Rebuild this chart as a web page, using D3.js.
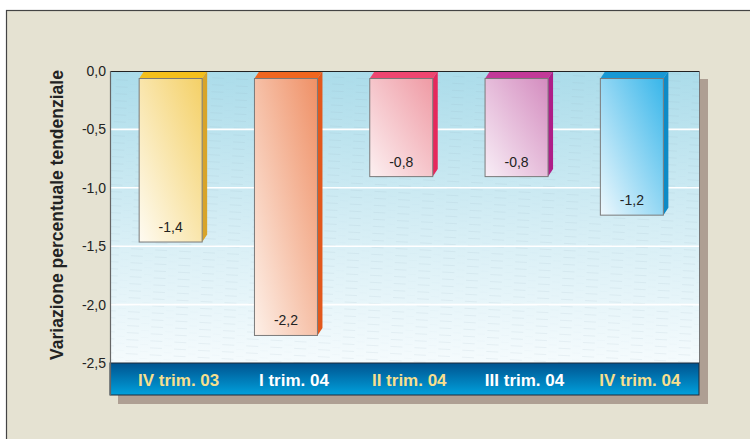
<!DOCTYPE html>
<html>
<head>
<meta charset="utf-8">
<script src="https://cdn.jsdelivr.net/npm/d3@7"></script>
<style>
  html, body { margin: 0; padding: 0; background: #fff; }
  svg { display: block; font-family: "Liberation Sans", Arial, sans-serif; }
</style>
</head>
<body>
<div id="chart"></div>
<script>
// data
const categories = ['IV trim. 03', 'I trim. 04', 'II trim. 04', 'III trim. 04', 'IV trim. 04'];
const values = [-1.4, -2.2, -0.84, -0.84, -1.17];
const yTicks = [0, -0.5, -1, -1.5, -2, -2.5];
const yTitle = 'Variazione percentuale tendenziale';

// colours per bar: top face, side face, front gradient (dark -> light)
const topColors = ['#f4bf1c', '#f0661f', '#ee4670', '#c23a98', '#1898d4'];
const sideColors = ['#d8a42a', '#e2581c', '#e6285c', '#ae1e88', '#0d8ac6'];
const frontDark = ['#f4d066', '#ef9066', '#ef9aa4', '#d48cbf', '#38b6ea'];
const frontLight = ['#fefbf2', '#fdf0e8', '#fcf0f1', '#f8eef6', '#eef8fd'];
const catColors = ['#f6df8e', '#ffffff', '#f6df8e', '#ffffff', '#f6df8e'];

const W = 750, H = 439;
const plotL = 110, plotR = 699, plotT = 71, plotB = 363, bandB = 395;
const dx = 5, dy = 7.5; // 3d depth

// italian number format, plain hyphen as minus
const it = d3.formatLocale({ decimal: ',', thousands: '.', grouping: [3], currency: ['', ' €'], minus: '-' });
const fmt = it.format('.1f');

const svg = d3.select('#chart').append('svg')
  .attr('width', W)
  .attr('height', H);

const defs = svg.append('defs');

const bg = defs.append('linearGradient').attr('id', 'plotbg')
  .attr('x1', 0).attr('y1', 0).attr('x2', 0).attr('y2', 1);
bg.append('stop').attr('offset', '0%').attr('stop-color', '#abdcea');
bg.append('stop').attr('offset', '55%').attr('stop-color', '#d6eef5');
bg.append('stop').attr('offset', '100%').attr('stop-color', '#f5fbfd');

const bandGrad = defs.append('linearGradient').attr('id', 'bandbg')
  .attr('x1', 0).attr('y1', 0).attr('x2', 0).attr('y2', 1);
bandGrad.append('stop').attr('offset', '0%').attr('stop-color', '#00538f');
bandGrad.append('stop').attr('offset', '100%').attr('stop-color', '#00a0dc');

// faint dashed hatch in the plot
const pat = defs.append('pattern').attr('id', 'hatch')
  .attr('patternUnits', 'userSpaceOnUse')
  .attr('width', 24).attr('height', 7)
  .attr('patternTransform', 'rotate(3)');
pat.append('line')
  .attr('x1', 0).attr('y1', 3.5).attr('x2', 12).attr('y2', 3.5)
  .attr('stroke', '#8aa6b6').attr('stroke-opacity', 0.12).attr('stroke-width', 1);
pat.append('line')
  .attr('x1', 14).attr('y1', 0).attr('x2', 22).attr('y2', 0)
  .attr('stroke', '#8aa6b6').attr('stroke-opacity', 0.08).attr('stroke-width', 1);

categories.forEach((c, i) => {
  const g = defs.append('linearGradient').attr('id', 'front' + i)
    .attr('x1', 1).attr('y1', 0).attr('x2', 0).attr('y2', 1);
  g.append('stop').attr('offset', '0%').attr('stop-color', frontDark[i]);
  g.append('stop').attr('offset', '100%').attr('stop-color', frontLight[i]);
});

// outer frame
svg.append('rect')
  .attr('x', 6.5).attr('y', 10.5)
  .attr('width', 800).attr('height', 500)
  .attr('fill', '#e5e2d2')
  .attr('stroke', '#444').attr('stroke-width', 1.2);

// scales
const y = d3.scaleLinear().domain([0, -2.5]).range([plotT, plotB]);
const x = d3.scaleBand().domain(categories)
  .range([plotL, plotR])
  .paddingInner(0.4536).paddingOuter(0.281).align(0.45);
const bw = x.bandwidth();

// shadow
svg.append('rect')
  .attr('x', plotL + 8).attr('y', plotT + 8)
  .attr('width', plotR - plotL + 1).attr('height', bandB - plotT + 1)
  .attr('fill', '#ae9f93');

// plot background
svg.append('rect')
  .attr('x', plotL).attr('y', plotT)
  .attr('width', plotR - plotL).attr('height', plotB - plotT)
  .attr('fill', 'url(#plotbg)');
svg.append('rect')
  .attr('x', plotL).attr('y', plotT)
  .attr('width', plotR - plotL).attr('height', plotB - plotT)
  .attr('fill', 'url(#hatch)');

// grid
svg.append('g').selectAll('line')
  .data(yTicks.filter(t => t !== 0 && t !== -2.5))
  .join('line')
  .attr('x1', plotL).attr('x2', plotR)
  .attr('y1', d => y(d)).attr('y2', d => y(d))
  .attr('stroke', '#ffffff').attr('stroke-width', 1.6);

// bars
const bars = svg.append('g').selectAll('g')
  .data(values)
  .join('g');

bars.append('polygon') // top
  .attr('points', (d, i) => {
    const x0 = x(categories[i]), y0 = y(0);
    return [[x0, y0 + dy], [x0 + dx, y0], [x0 + bw + dx, y0], [x0 + bw, y0 + dy]].join(' ');
  })
  .attr('fill', (d, i) => topColors[i]);

bars.append('polygon') // side
  .attr('points', (d, i) => {
    const x0 = x(categories[i]) + bw, y0 = y(0), y1 = y(d);
    return [[x0, y0 + dy], [x0 + dx, y0], [x0 + dx, y1], [x0, y1 + dy]].join(' ');
  })
  .attr('fill', (d, i) => sideColors[i]);

bars.append('rect') // front
  .attr('x', (d, i) => x(categories[i]))
  .attr('y', y(0) + dy)
  .attr('width', bw)
  .attr('height', d => y(d) - y(0))
  .attr('fill', (d, i) => 'url(#front' + i + ')')
  .attr('stroke', '#7a7a7a').attr('stroke-width', 1);

bars.append('text')
  .attr('x', (d, i) => x(categories[i]) + bw / 2)
  .attr('y', d => y(d) + dy - 10)
  .attr('text-anchor', 'middle')
  .attr('font-size', 14)
  .attr('fill', '#222')
  .text(d => fmt(d));

// plot borders
svg.append('line')
  .attr('x1', plotL).attr('x2', plotR).attr('y1', plotT + 0.5).attr('y2', plotT + 0.5)
  .attr('stroke', '#222').attr('stroke-width', 1.2);
svg.append('line')
  .attr('x1', plotR + 0.5).attr('x2', plotR + 0.5).attr('y1', plotT).attr('y2', plotB)
  .attr('stroke', '#777').attr('stroke-width', 1);

// category band
svg.append('rect')
  .attr('x', plotL).attr('y', plotB)
  .attr('width', plotR - plotL).attr('height', bandB - plotB)
  .attr('fill', 'url(#bandbg)')
  .attr('stroke', '#1d2b3a').attr('stroke-width', 1);

svg.append('g').selectAll('text')
  .data(categories)
  .join('text')
  .attr('x', d => x(d) + bw / 2 + 8)
  .attr('y', 386)
  .attr('text-anchor', 'middle')
  .attr('font-size', 17)
  .attr('font-weight', 'bold')
  .attr('fill', (d, i) => catColors[i])
  .text(d => d);

svg.append('line')
  .attr('x1', plotL + 0.5).attr('x2', plotL + 0.5).attr('y1', plotT).attr('y2', bandB)
  .attr('stroke', '#666').attr('stroke-width', 1.2);

// y axis
const yAxis = d3.axisLeft(y)
  .tickValues(yTicks)
  .tickSize(0)
  .tickPadding(4)
  .tickFormat(d => d === 0 ? '0,0' : fmt(d));

const ag = svg.append('g')
  .attr('transform', `translate(${plotL},0)`)
  .call(yAxis);
ag.select('.domain').remove();
ag.selectAll('text')
  .attr('font-size', 14)
  .attr('font-family', '"Liberation Sans", Arial, sans-serif')
  .attr('fill', '#222');

svg.append('text')
  .attr('transform', `translate(63, ${(plotT + plotB) / 2 - 2}) rotate(-90)`)
  .attr('text-anchor', 'middle')
  .attr('font-size', 17.5)
  .attr('font-weight', 'bold')
  .attr('fill', '#222')
  .text(yTitle);
</script>
</body>
</html>
